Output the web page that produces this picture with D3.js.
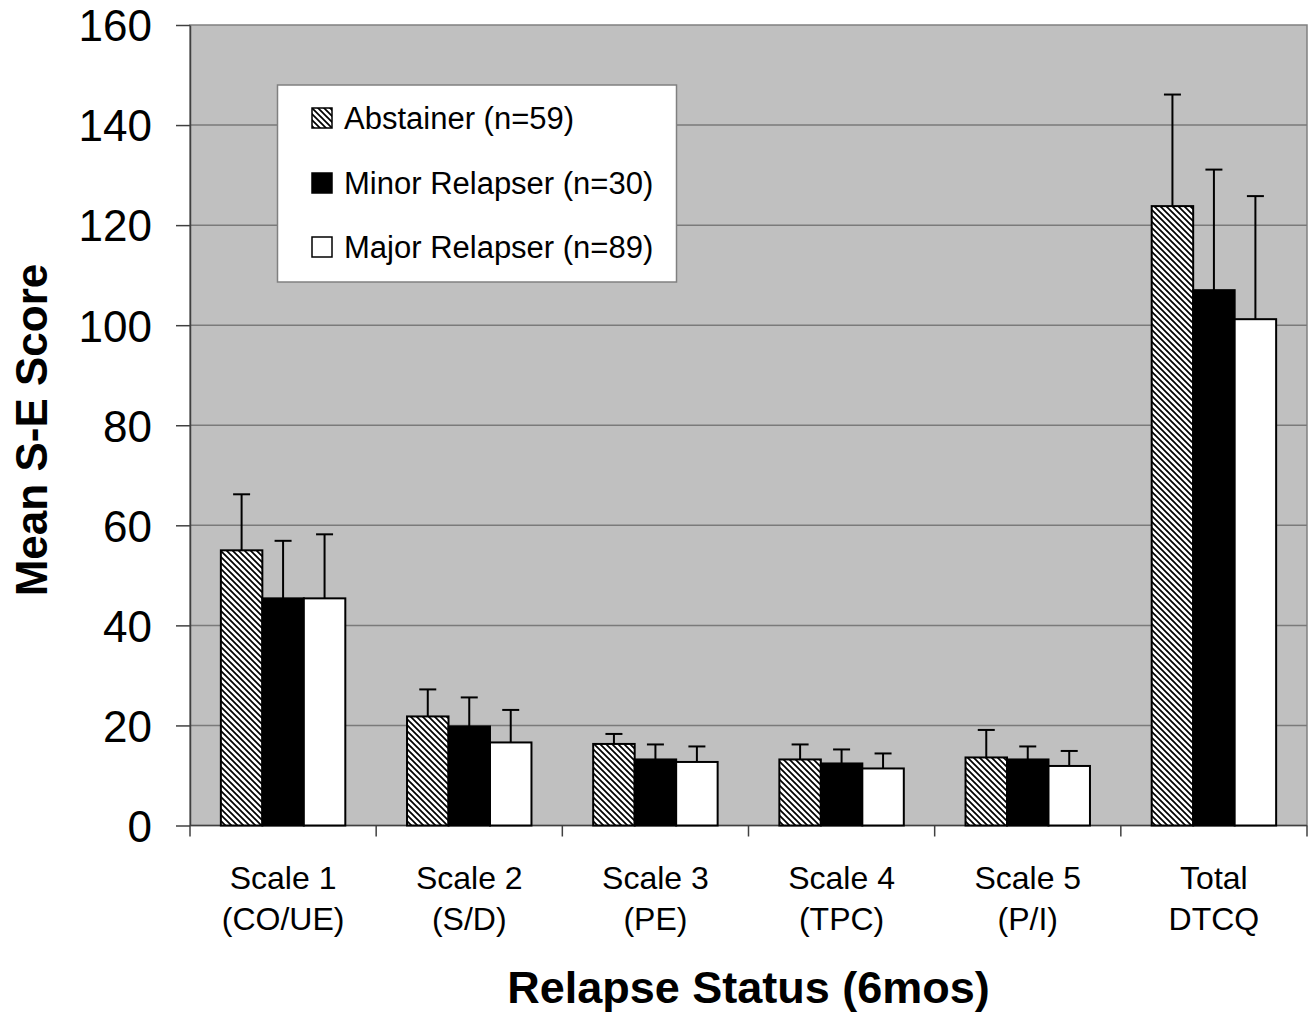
<!DOCTYPE html>
<html>
<head>
<meta charset="utf-8">
<script src="https://cdn.jsdelivr.net/npm/d3@7"></script>
<style>
  html, body { margin: 0; padding: 0; background: #fff; }
  text { font-family: "Liberation Sans", Arial, sans-serif; fill: #000; }
</style>
</head>
<body>
<svg id="chart" width="1313" height="1015"></svg>
<script>
// ---- data ----
const categories = ["Scale 1|(CO/UE)", "Scale 2|(S/D)", "Scale 3|(PE)", "Scale 4|(TPC)", "Scale 5|(P/I)", "Total|DTCQ"];
const seriesNames = ["Abstainer (n=59)", "Minor Relapser (n=30)", "Major Relapser (n=89)"];
const abstainerMean = [55, 21.8, 16.3, 13.2, 13.6, 123.8];
const abstainerErr  = [11.2, 5.4, 2.0, 3.0, 5.5, 22.3];
const minorMean     = [45.4, 19.8, 13.2, 12.4, 13.2, 107];
const minorErr      = [11.5, 5.8, 3.0, 2.8, 2.6, 24.1];
const majorMean     = [45.4, 16.6, 12.7, 11.4, 11.9, 101.2];
const majorErr      = [12.8, 6.5, 3.1, 3.0, 3.0, 24.6];
const yTicks = [0, 20, 40, 60, 80, 100, 120, 140, 160];
const xTitle = "Relapse Status (6mos)";
const yTitle = "Mean S-E Score";

const means = [abstainerMean, minorMean, majorMean];
const errs = [abstainerErr, minorErr, majorErr];

// ---- layout ----
const svg = d3.select("#chart");
const L = 190, R = 1307, T = 25, B = 825.5;

const defs = svg.append("defs");
const pat = defs.append("pattern").attr("id", "hatch")
  .attr("patternUnits", "userSpaceOnUse").attr("width", 6).attr("height", 6);
pat.append("rect").attr("width", 6).attr("height", 6).attr("fill", "#fff");
pat.append("path").attr("d", "M0,0 L6,6 M-1,5 L1,7 M5,-1 L7,1")
  .attr("stroke", "#000").attr("stroke-width", 1.7);

const fills = ["url(#hatch)", "#000", "#fff"];

const x0 = d3.scaleBand().domain(categories).range([L, R]).paddingInner(0).paddingOuter(0);
const x1 = d3.scaleBand().domain(d3.range(3)).range([0, x0.bandwidth()]).paddingInner(0).paddingOuter(0.744);
const y = d3.scaleLinear().domain([0, 160]).range([B, T]);

// plot background
svg.append("rect").attr("x", L).attr("y", T).attr("width", R - L).attr("height", B - T)
  .attr("fill", "#c0c0c0").attr("stroke", "#808080").attr("stroke-width", 1.5);

// gridlines
svg.append("g").selectAll("line").data(yTicks.filter(d => d > 0 && d < 160)).join("line")
  .attr("x1", L).attr("x2", R).attr("y1", d => y(d)).attr("y2", d => y(d))
  .attr("stroke", "#7a7a7a").attr("stroke-width", 1.5);

// y axis
const yAxis = d3.axisLeft(y).tickValues(yTicks).tickSize(14).tickPadding(24).tickSizeOuter(0);
const gy = svg.append("g").attr("transform", `translate(${L},0)`).call(yAxis);
gy.select(".domain").attr("stroke", "#404040").attr("stroke-width", 1.5);
gy.selectAll(".tick line").attr("stroke", "#404040").attr("stroke-width", 1.5);
gy.selectAll(".tick text").attr("font-size", 44).attr("font-family", "Liberation Sans, Arial, sans-serif")
  .attr("fill", "#000").attr("dy", "0.36em");

// x axis line and boundary ticks
svg.append("line").attr("x1", L).attr("x2", R).attr("y1", B).attr("y2", B)
  .attr("stroke", "#404040").attr("stroke-width", 1.5);
const bounds = categories.map(c => x0(c)).concat([R]);
svg.append("g").selectAll("line").data(bounds).join("line")
  .attr("x1", d => d).attr("x2", d => d).attr("y1", B).attr("y2", B + 11)
  .attr("stroke", "#404040").attr("stroke-width", 1.5);

// bars
const barG = svg.append("g");
categories.forEach((c, ci) => {
  for (let s = 0; s < 3; s++) {
    const bx = x0(c) + x1(s);
    const v = means[s][ci];
    const e = errs[s][ci];
    const cx = bx + x1.bandwidth() / 2;
    barG.append("line").attr("x1", cx).attr("x2", cx).attr("y1", y(v)).attr("y2", y(v + e))
      .attr("stroke", "#000").attr("stroke-width", 2);
    barG.append("line").attr("x1", cx - 8.5).attr("x2", cx + 8.5).attr("y1", y(v + e)).attr("y2", y(v + e))
      .attr("stroke", "#000").attr("stroke-width", 2);
  }
  for (let s = 0; s < 3; s++) {
    const bx = x0(c) + x1(s);
    const v = means[s][ci];
    barG.append("rect").attr("x", bx).attr("y", y(v)).attr("width", x1.bandwidth()).attr("height", B - y(v))
      .attr("fill", fills[s]).attr("stroke", "#000").attr("stroke-width", 2);
  }
});

// x category labels
const xl = svg.append("g");
categories.forEach(c => {
  const parts = c.split("|");
  const cx = x0(c) + x0.bandwidth() / 2;
  parts.forEach((p, i) => {
    xl.append("text").attr("x", cx).attr("y", 889 + i * 41).attr("text-anchor", "middle")
      .attr("font-size", 32).text(p);
  });
});

// axis titles
svg.append("text").attr("x", (L + R) / 2).attr("y", 1003).attr("text-anchor", "middle")
  .attr("font-size", 45).attr("font-weight", "bold").text(xTitle);
svg.append("text").attr("transform", "translate(47,430) rotate(-90)").attr("text-anchor", "middle")
  .attr("font-size", 44).attr("font-weight", "bold").text(yTitle);

// legend
const lg = svg.append("g");
lg.append("rect").attr("x", 277.5).attr("y", 85).attr("width", 399).attr("height", 197)
  .attr("fill", "#fff").attr("stroke", "#808080").attr("stroke-width", 1.5);
const rowY = [118, 183, 247];
seriesNames.forEach((n, i) => {
  lg.append("rect").attr("x", 312).attr("y", rowY[i] - 10).attr("width", 20).attr("height", 20)
    .attr("fill", fills[i]).attr("stroke", "#000").attr("stroke-width", 1.5);
  lg.append("text").attr("x", 344).attr("y", rowY[i] + 11).attr("font-size", 31).text(n);
});
</script>
</body>
</html>
